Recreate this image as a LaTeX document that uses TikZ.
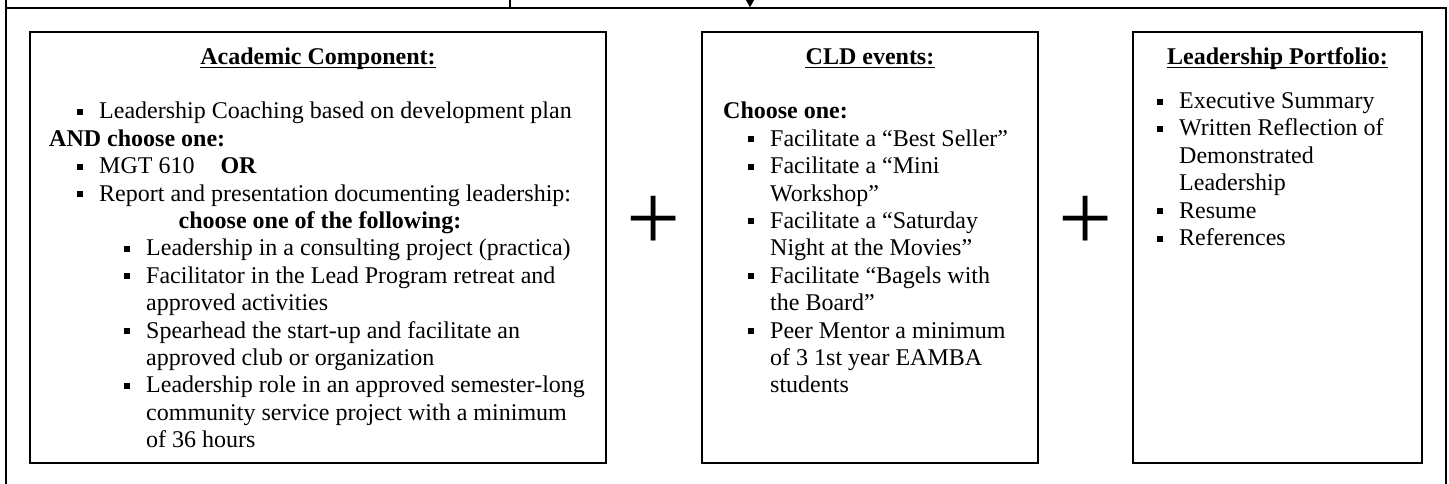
\documentclass[tikz,border=0pt]{standalone}
\usepackage{fontspec}
\setmainfont{Liberation Serif}
\usetikzlibrary{arrows.meta}
\newcommand\bul{\makebox[22pt][l]{\raisebox{4pt}{\rule{6pt}{6pt}}}}
\tikzset{
  frame/.style={line width=2pt},
  card/.style={draw, line width=2pt, inner sep=0pt},
  txt/.style={anchor=base west, inner sep=0pt, font=\fontsize{24}{27.4}\selectfont},
  head/.style={anchor=base, inner sep=0pt, font=\fontsize{24}{27.4}\selectfont\bfseries},
  ulne/.style={line width=1.8pt},
  plussign/.style={inner sep=0pt, font=\fontsize{96}{96}\selectfont},
}
\begin{document}
\begin{tikzpicture}[x=1pt,y=-1pt]
\useasboundingbox (0,0) rectangle (1449,483);
\clip (0,0) rectangle (1449,483);
% outer frame
\draw[frame] (510,0) -- (510,7.5);
\draw[frame] (6,0) -- (6,490);
\draw[frame] (6,7.5) -- (1446,7.5) -- (1446,490);
\coordinate (arrS) at (750,-20);
\coordinate (arrE) at (750,7.5);
\draw[frame, -{Triangle[width=8pt,length=8pt]}] (arrS) -- (arrE);
% boxes
\node[card, minimum width=576pt, minimum height=431pt] (acad) at (318,247.5) {};
\node[card, minimum width=336pt, minimum height=431pt] (cld) at (870,247.5) {};
\node[card, minimum width=289pt, minimum height=431pt] (port) at (1277.5,247.5) {};
% plus signs
\node[plussign] (plus1) at (654,223) {+};
\node[plussign] (plus2) at (1086,223) {+};
% headings
\node[head] (hA) at (318,64) {Academic Component:};
\draw[ulne] ([yshift=-3.5pt]hA.base west) -- ([yshift=-3.5pt]hA.base east);
\node[head] (hC) at (870,64) {CLD events:};
\draw[ulne] ([yshift=-3.5pt]hC.base west) -- ([yshift=-3.5pt]hC.base east);
\node[head] (hP) at (1277.5,64) {Leadership Portfolio:};
\draw[ulne] ([yshift=-3.5pt]hP.base west) -- ([yshift=-3.5pt]hP.base east);
% academic
\node[txt] (a0) at (77,118.8) {\bul Leadership Coaching based on development plan};
\node[txt] (a1) at (49,146.2) {\textbf{AND choose one:}};
\node[txt] (a2) at (77,173.6) {\bul MGT 610\hspace{26pt}\textbf{OR}};
\node[txt] (a3) at (77,201) {\bul Report and presentation documenting leadership:};
\node[head] (a4) at (320,228.4) {choose one of the following:};
\node[txt] (a5) at (124,255.8) {\bul Leadership in a consulting project (practica)};
\node[txt] (a6) at (124,283.2) {\bul Facilitator in the Lead Program retreat and};
\node[txt] (a7) at (146,310.6) {approved activities};
\node[txt] (a8) at (124,338) {\bul Spearhead the start-up and facilitate an};
\node[txt] (a9) at (146,365.4) {approved club or organization};
\node[txt] (a10) at (124,392.8) {\bul Leadership role in an approved semester-long};
\node[txt] (a11) at (146,420.2) {community service project with a minimum};
\node[txt] (a12) at (146,447.6) {of 36 hours};
% CLD
\node[txt] (c0) at (723,118.8) {\textbf{Choose one:}};
\node[txt] (c1) at (748,146.2) {\bul Facilitate a “Best Seller”};
\node[txt] (c2) at (748,173.6) {\bul Facilitate a “Mini};
\node[txt] (c3) at (770,201) {Workshop”};
\node[txt] (c4) at (748,228.4) {\bul Facilitate a “Saturday};
\node[txt] (c5) at (770,255.8) {Night at the Movies”};
\node[txt] (c6) at (748,283.2) {\bul Facilitate “Bagels with};
\node[txt] (c7) at (770,310.6) {the Board”};
\node[txt] (c8) at (748,338) {\bul Peer Mentor a minimum};
\node[txt] (c9) at (770,365.4) {of 3 1st year EAMBA};
\node[txt] (c10) at (770,392.8) {students};
% portfolio
\node[txt] (p0) at (1157,108.5) {\bul Executive Summary};
\node[txt] (p1) at (1157,135.9) {\bul Written Reflection of};
\node[txt] (p2) at (1179,163.3) {Demonstrated};
\node[txt] (p3) at (1179,190.7) {Leadership};
\node[txt] (p4) at (1157,218.1) {\bul Resume};
\node[txt] (p5) at (1157,245.5) {\bul References};
\end{tikzpicture}
\end{document}
